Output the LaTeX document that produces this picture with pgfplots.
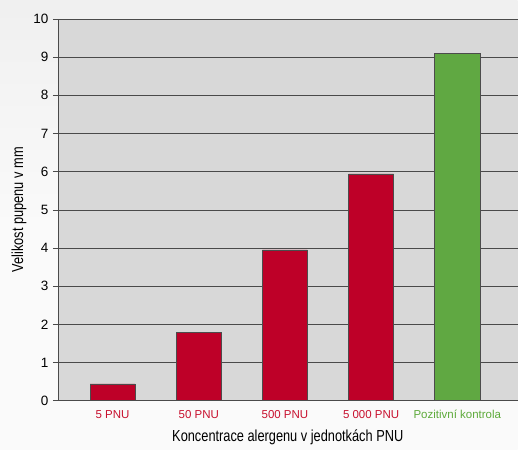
\documentclass[border=0pt]{standalone}
\usepackage{fontspec}
\setmainfont{Liberation Sans}
\newfontfamily\condfont{Liberation Sans}[FakeStretch=0.8]
\usepackage{pgfplots}
\pgfplotsset{compat=1.18}
\definecolor{barred}{HTML}{BE0028}
\definecolor{labred}{HTML}{C8102E}
\definecolor{bargreen}{HTML}{60A842}
\definecolor{labgreen}{HTML}{5DAA3A}
\definecolor{plotbg}{HTML}{D8D8D8}
\definecolor{gridc}{HTML}{4A4A4A}
\begin{document}
\begin{tikzpicture}[x=1pt,y=1pt]
	% page background
	\shade[top color=gray!12, bottom color=gray!4, middle color=white!96!gray] (0,0) rectangle (518,450);
	\begin{axis}[
	at={(58pt,49pt)}, anchor=south west,
	scale only axis, width=460pt, height=382pt,
	xmin=-0.634, xmax=4.70,
	ymin=0, ymax=10,
	ytick={0,...,10},
	xtick={0,1,2,3,4},
	xticklabels={\textcolor{labred}{5 PNU},\textcolor{labred}{50 PNU},\textcolor{labred}{500 PNU},\textcolor{labred}{5 000 PNU},\textcolor{labgreen}{Pozitivní kontrola}},
	xticklabel style={font=\fontsize{11.5}{13}\selectfont, yshift=-1pt},
	yticklabel style={font=\fontsize{13.5}{15}\selectfont, xshift=-1pt},
	/pgf/number format/assume math mode=true,
	axis x line*=bottom, axis y line*=left,
	axis line style={gridc, line width=0.8pt, -},
	x tick style={draw=none},
	y tick style={gridc, line width=0.6pt},
	tick align=outside, major tick length=5pt,
	ymajorgrids=true, grid style={gridc, line width=0.6pt},
	axis background/.style={fill=plotbg},
	xlabel={\condfont Koncentrace alergenu v jednotkách PNU},
	ylabel={\condfont Velikost pupenu v mm},
	xlabel style={font=\fontsize{16}{18}\selectfont, yshift=-4pt},
	ylabel style={font=\fontsize{16}{18}\selectfont, yshift=0pt},
	ybar, bar width=0.523, bar shift=0pt,
	]
	\addplot[fill=barred, draw=black!70, line width=0.5pt]
	coordinates {
		(0, 0.44)
		(1, 1.78)
		(2, 3.95)
		(3, 5.94)
	};
	\addplot[fill=bargreen, draw=black!70, line width=0.5pt]
	coordinates {
		(4, 9.11)
	};
	\end{axis}
\end{tikzpicture}
\end{document}
